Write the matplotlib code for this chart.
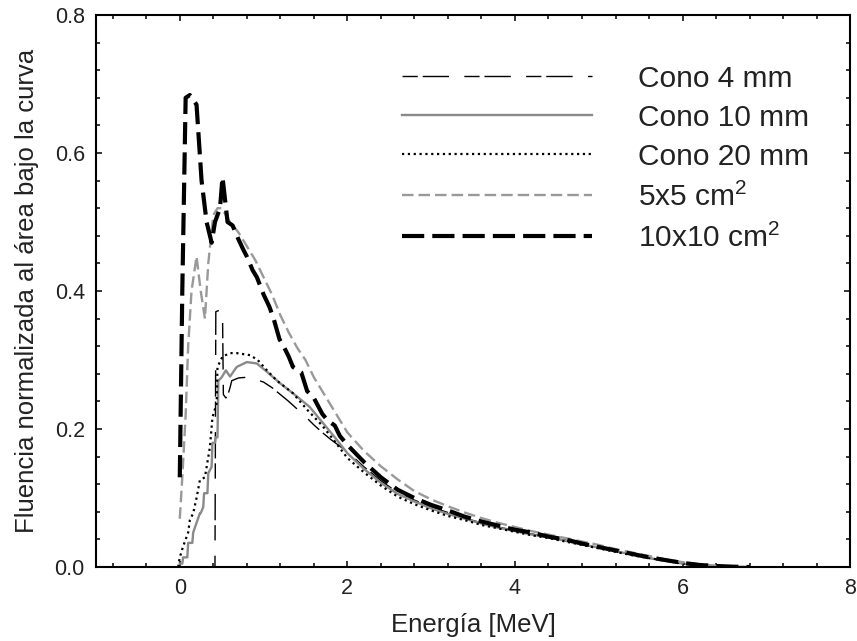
import matplotlib
matplotlib.use("Agg")
import matplotlib.pyplot as plt
import matplotlib.ticker as ticker

plt.rcParams['font.family'] = ['Liberation Sans', 'DejaVu Sans']
plt.rcParams['mathtext.fontset'] = 'custom'
plt.rcParams['mathtext.rm'] = 'Liberation Sans'
plt.rcParams['lines.scale_dashes'] = False

# Cono 4 mm
e_c4 = [0.0, 0.42, 0.43, 0.47, 0.51, 0.52, 0.55, 0.57, 0.6, 0.62, 0.7, 0.8, 0.9, 1.0, 1.1,
        1.2, 1.3, 1.4, 1.5, 1.6, 1.7, 1.8, 1.9, 2.0, 2.2, 2.4, 2.6, 2.8, 3.0, 3.2, 3.4,
        3.6, 3.8, 4.0, 4.2, 4.4, 4.6, 4.8, 5.0, 5.2, 5.4, 5.6, 5.8, 6.0, 6.2, 6.4, 6.6]
f_c4 = [0.0, 0.0, 0.37, 0.372, 0.37, 0.25, 0.245, 0.248, 0.26, 0.27, 0.274, 0.275, 0.272, 0.268, 0.26,
        0.25, 0.24, 0.229, 0.218, 0.206, 0.195, 0.185, 0.176, 0.167, 0.145, 0.125, 0.108, 0.097, 0.087, 0.079, 0.071,
        0.064, 0.058, 0.053, 0.048, 0.043, 0.039, 0.033, 0.028, 0.023, 0.018, 0.013, 0.009, 0.005, 0.003, 0.001, 0.0]

# Cono 10 mm
e_c10 = [0.0, 0.03, 0.04, 0.09, 0.1, 0.15, 0.16, 0.24, 0.25, 0.28, 0.29, 0.33, 0.34, 0.38, 0.39,
         0.42, 0.43, 0.45, 0.46, 0.5, 0.55, 0.6, 0.68, 0.8, 0.92, 1.04, 1.19, 1.4, 1.55, 1.7,
         1.85, 2.0, 2.2, 2.4, 2.6, 2.8, 3.0, 3.2, 3.4, 3.6, 3.8, 4.0, 4.2, 4.4, 4.6, 4.8,
         5.0, 5.2, 5.4, 5.6, 5.8, 6.0, 6.2, 6.4, 6.6]
f_c10 = [0.005, 0.005, 0.014, 0.014, 0.035, 0.035, 0.05, 0.078, 0.078, 0.087, 0.107, 0.107, 0.136, 0.145, 0.18,
         0.18, 0.188, 0.188, 0.27, 0.275, 0.285, 0.276, 0.29, 0.297, 0.295, 0.283, 0.267, 0.247, 0.232, 0.21,
         0.188, 0.165, 0.142, 0.122, 0.106, 0.095, 0.085, 0.077, 0.07, 0.063, 0.057, 0.052, 0.047, 0.043, 0.038, 0.033,
         0.028, 0.023, 0.018, 0.013, 0.009, 0.005, 0.003, 0.001, 0.0]

# Cono 20 mm
e_c20 = [-0.02, 0.0, 0.04, 0.1, 0.12, 0.16, 0.2, 0.24, 0.3, 0.36, 0.39, 0.44, 0.45, 0.51, 0.6,
         0.68, 0.84, 0.93, 1.04, 1.16, 1.35, 1.52, 1.7, 1.85, 2.0, 2.2, 2.4, 2.6, 2.8, 3.0,
         3.2, 3.4, 3.6, 3.8, 4.0, 4.2, 4.4, 4.6, 4.8, 5.0, 5.2, 5.4, 5.6, 5.8, 6.0, 6.2,
         6.4, 6.6]
f_c20 = [0.0, 0.014, 0.03, 0.05, 0.068, 0.078, 0.1, 0.126, 0.13, 0.174, 0.217, 0.237, 0.29, 0.305, 0.31,
         0.31, 0.307, 0.3, 0.285, 0.27, 0.252, 0.228, 0.205, 0.182, 0.158, 0.137, 0.118, 0.102, 0.091, 0.082,
         0.074, 0.068, 0.061, 0.056, 0.051, 0.046, 0.042, 0.037, 0.032, 0.027, 0.022, 0.017, 0.013, 0.009, 0.005, 0.003,
         0.001, 0.0]

# 5x5 cm2
e_5 = [0.0, 0.03, 0.07, 0.1, 0.14, 0.2, 0.25, 0.3, 0.34, 0.4, 0.45, 0.5, 0.6, 0.7, 0.8,
       0.9, 1.0, 1.1, 1.2, 1.3, 1.4, 1.5, 1.6, 1.7, 1.8, 1.9, 2.0, 2.2, 2.4, 2.6,
       2.8, 3.0, 3.2, 3.4, 3.6, 3.8, 4.0, 4.2, 4.4, 4.6, 4.8, 5.0, 5.2, 5.4, 5.6,
       5.8, 6.0, 6.2, 6.4, 6.6, 6.8]
f_5 = [0.07, 0.13, 0.22, 0.32, 0.40, 0.45, 0.40, 0.36, 0.44, 0.51, 0.52, 0.52, 0.50, 0.485, 0.465,
       0.445, 0.42, 0.395, 0.365, 0.34, 0.318, 0.3, 0.275, 0.255, 0.235, 0.215, 0.195, 0.168, 0.146, 0.127,
       0.11, 0.098, 0.088, 0.079, 0.071, 0.064, 0.058, 0.052, 0.047, 0.042, 0.037, 0.032, 0.026, 0.021, 0.016,
       0.011, 0.007, 0.004, 0.002, 0.001, 0.0]

# 10x10 cm2
e_10 = [0.0, 0.03, 0.07, 0.12, 0.2, 0.26, 0.32, 0.38, 0.42, 0.48, 0.51, 0.57, 0.63, 0.7, 0.75,
        0.8, 0.87, 0.92, 1.0, 1.07, 1.12, 1.19, 1.23, 1.3, 1.35, 1.45, 1.52, 1.6, 1.7, 1.76,
        1.85, 1.91, 2.0, 2.2, 2.4, 2.6, 2.8, 3.0, 3.2, 3.4, 3.6, 3.8, 4.0, 4.2, 4.4,
        4.6, 4.8, 5.0, 5.2, 5.4, 5.6, 5.8, 6.0, 6.2, 6.4, 6.6, 6.8]
f_10 = [0.13, 0.4, 0.68, 0.684, 0.67, 0.56, 0.50, 0.47, 0.50, 0.52, 0.565, 0.50, 0.495, 0.475, 0.462,
        0.45, 0.43, 0.42, 0.395, 0.377, 0.36, 0.33, 0.322, 0.305, 0.29, 0.282, 0.255, 0.245, 0.222, 0.213,
        0.205, 0.19, 0.177, 0.152, 0.13, 0.112, 0.1, 0.09, 0.082, 0.073, 0.066, 0.06, 0.054, 0.05, 0.044,
        0.04, 0.034, 0.029, 0.024, 0.019, 0.014, 0.01, 0.006, 0.003, 0.0015, 0.0005, 0.0]

labels = ['Cono 4 mm', 'Cono 10 mm', 'Cono 20 mm', '5x5 cm$^2$', '10x10 cm$^2$']

fig = plt.figure(figsize=(8.57, 6.41), dpi=100)
ax = fig.add_axes([0.112, 0.1154, 0.880, 0.8612])

ax.plot(e_c4, f_c4, color='black', lw=1.0, ls=(0, (11, 3.5, 19, 11)), label=labels[0])
ax.plot(e_c10, f_c10, color='#8a8a8a', lw=1.7, ls='-', label=labels[1])
ax.plot(e_c20, f_c20, color='black', lw=1.6, ls=(0, (1.6, 2.6)), label=labels[2])
ax.plot(e_5, f_5, color='#999999', lw=1.7, ls=(0, (8.3, 3.6)), label=labels[3])
ax.plot(e_10, f_10, color='black', lw=3.0, ls=(0, (16, 5.8)), label=labels[4])

ax.set_xlim(-1, 8)
ax.set_ylim(0, 0.8)
ax.xaxis.set_major_locator(ticker.MultipleLocator(2))
ax.xaxis.set_minor_locator(ticker.MultipleLocator(0.4))
ax.yaxis.set_major_locator(ticker.MultipleLocator(0.2))
ax.yaxis.set_minor_locator(ticker.MultipleLocator(0.04))
ax.yaxis.set_major_formatter(ticker.FormatStrFormatter('%.1f'))

ax.tick_params(which='both', direction='in', top=True, right=True, width=1.1, colors='black',
               labelcolor='#222222', labelsize=15.5)
ax.tick_params(which='major', length=4, pad=8)
ax.tick_params(which='minor', length=3)
for s in ax.spines.values():
    s.set_linewidth(1.5)

ax.set_xlabel('Energía [MeV]', fontsize=18.5, color='#222222', labelpad=10)
ax.set_ylabel('Fluencia normalizada al área bajo la curva', fontsize=18.5, color='#222222', labelpad=11)

ax.legend(loc='upper left', bbox_to_anchor=(0.406, 0.91), frameon=False, fontsize=21.5,
          handlelength=6.35, handletextpad=1.54, labelspacing=0.37, borderpad=0, borderaxespad=0,
          labelcolor='#222222')

fig.savefig('out.png', dpi=100)
